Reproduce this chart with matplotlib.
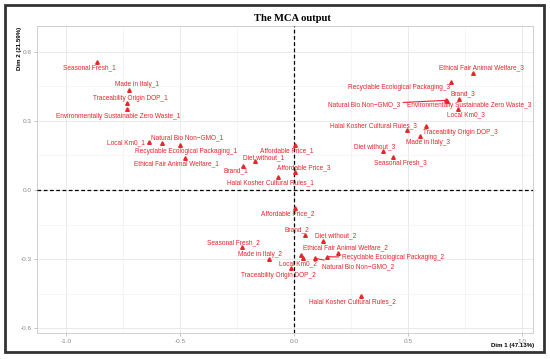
import matplotlib
matplotlib.use('Agg')
import matplotlib.pyplot as plt
from matplotlib.patches import Rectangle
import numpy as np

plt.rcParams['font.family'] = ['Liberation Sans', 'DejaVu Sans']
plt.rcParams['axes.unicode_minus'] = False

# variables of the MCA, levels 1..3
variables = ['Seasonal Fresh', 'Made in Italy', 'Traceability Origin DOP',
             'Environmentally Sustainable Zero Waste', 'Local Km0',
             'Natural Bio Non\u2212GMO', 'Recyclable Ecological Packaging',
             'Ethical Fair Animal Welfare', 'Brand', 'Diet without',
             'Affordable Price', 'Halal Kosher Cultural Rules']

dim1_lvl1 = [-0.863, -0.725, -0.731, -0.732, -0.637, -0.580, -0.499, -0.478, -0.224, -0.172, 0.003, -0.069]
dim2_lvl1 = [0.555, 0.436, 0.377, 0.351, 0.207, 0.205, 0.194, 0.139, 0.105, 0.126, 0.194, 0.056]

dim1_lvl2 = [-0.227, -0.111, -0.014, 0.031, 0.038, 0.092, 0.144, 0.192, 0.048, 0.129, 0.006, 0.295]
dim2_lvl2 = [-0.249, -0.300, -0.339, -0.282, -0.294, -0.296, -0.289, -0.272, -0.195, -0.220, -0.079, -0.458]

dim1_lvl3 = [0.434, 0.553, 0.579, 0.672, 0.719, 0.668, 0.689, 0.786, 0.725, 0.390, 0.003, 0.494]
dim2_lvl3 = [0.144, 0.233, 0.277, 0.386, 0.351, 0.389, 0.470, 0.507, 0.397, 0.169, 0.079, 0.259]

# repel-like label offsets in pixels (dx, dy with y pointing down), None = no label
offsets_lvl1 = [(-8, 6), (8, -5), (3, -5), (-9, 7), (-23, 0), (25, -5),
                (6, 6), (-9, 6), (-7, 5), (9, -3), (-8, 5), (-8, 6)]
offsets_lvl2 = [(-9, -5), (-9, -5), (-12, 7), None, (-5, 6), (43, 8),
                (66, 1), (8, -5), (-8, -5), (12, -5), (-8, 5), (-9, 6)]
offsets_lvl3 = [(8, 6), (8, 6), (34, 6), (22, 4), (8, 6), (-82, 4),
                (-52, 6), (8, -5), (4, -5), (-8, -4), (9, -4), (-33, -5)]
with_segment = ['Natural Bio Non\u2212GMO_3', 'Natural Bio Non\u2212GMO_2',
                'Recyclable Ecological Packaging_2']

red = '#e5262c'

fig = plt.figure(figsize=(5.5, 3.59), dpi=100)
ax = fig.add_axes([0.0678, 0.0716, 0.9018, 0.8564])

levels = [(dim1_lvl1, dim2_lvl1, offsets_lvl1, 1),
          (dim1_lvl2, dim2_lvl2, offsets_lvl2, 2),
          (dim1_lvl3, dim2_lvl3, offsets_lvl3, 3)]

for xs, ys, offs, lvl in levels:
    ax.plot(xs, ys, linestyle='none', marker='^', ms=2.6, color=red, zorder=4)
    for name, x, y, off in zip(variables, xs, ys, offs):
        if off is None:
            continue
        label = f'{name}_{lvl}'
        kw = {}
        if label in with_segment:
            kw['arrowprops'] = dict(arrowstyle='-', color=red, lw=0.8,
                                    shrinkA=0, shrinkB=1)
        ax.annotate(label, (x, y), xytext=(off[0], -off[1]),
                    textcoords='offset pixels', ha='center', va='center',
                    fontsize=4.7, color=red, zorder=5, **kw)

ax.axhline(0, color='black', ls=(0, (3, 2)), lw=0.9, zorder=3)
ax.axvline(0, color='black', ls=(0, (3, 2)), lw=0.9, zorder=3)

ax.set_xlim(-1.126, 1.05)
ax.set_ylim(-0.621, 0.712)
ax.set_xticks([-1.0, -0.5, 0.0, 0.5, 1.0])
ax.set_xticks([-0.75, -0.25, 0.25, 0.75], minor=True)
ax.set_yticks([-0.6, -0.3, 0.0, 0.3, 0.6])
ax.set_yticks([-0.45, -0.15, 0.15, 0.45], minor=True)
ax.set_xticklabels(['-1.0', '-0.5', '0.0', '0.5', '1.0'])
ax.set_yticklabels(['-0.6', '-0.3', '0.0', '0.3', '0.6'])
ax.grid(which='major', color='#e6e6e6', lw=0.6, zorder=0)
ax.grid(which='minor', color='#f2f2f2', lw=0.5, zorder=0)
ax.tick_params(which='major', labelsize=4.6, labelcolor='#888888', color='#aaaaaa',
               length=2, width=0.5, pad=2)
ax.tick_params(which='minor', length=0)
for sp in ax.spines.values():
    sp.set_color('#cfcfcf')
    sp.set_linewidth(0.7)
ax.set_axisbelow(True)

fig.text(292 / 550, 1 - 18.3 / 359, 'The MCA output', ha='center', va='center',
         fontsize=7.6, fontweight='bold', family='Liberation Serif')
fig.text(534 / 550, 1 - 345 / 359, 'Dim 1 (47.13%)', ha='right', va='center',
         fontsize=4.4, fontweight='bold')
fig.text(19 / 550, 1 - 26.5 / 359, 'Dim 2 (21.59%)', ha='center', va='top',
         rotation=90, fontsize=4.4, fontweight='bold')

# dark frame round the whole figure
fig.patches.append(Rectangle((4.5 / 550, 1 - 352 / 359), 539.5 / 550, 347 / 359,
                             transform=fig.transFigure, fill=False,
                             edgecolor='#333333', lw=2.0))

fig.savefig('out.png', dpi=100)
